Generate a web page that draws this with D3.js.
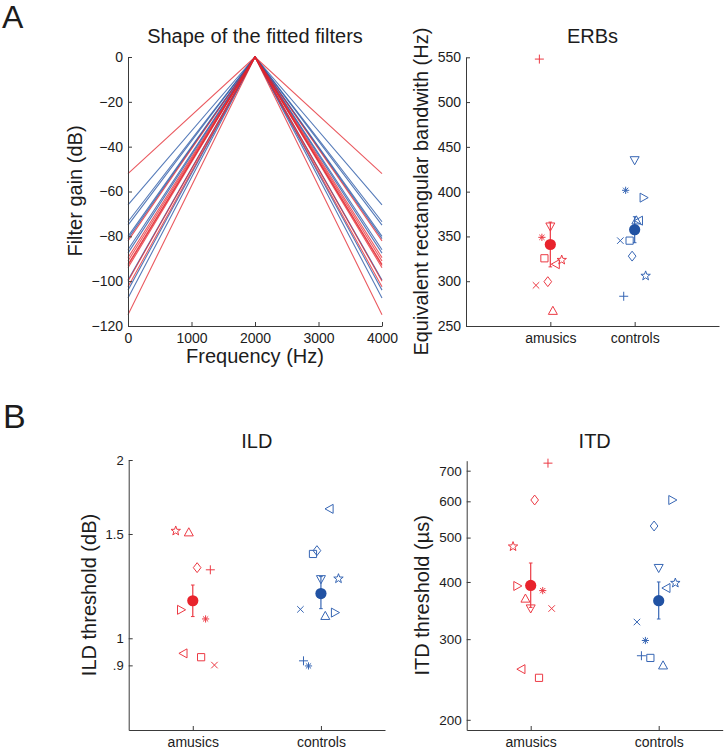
<!DOCTYPE html>
<html>
<head>
<meta charset="utf-8">
<script src="https://cdn.jsdelivr.net/npm/d3@7"></script>
<style>
  body { margin: 0; background: #fff; }
  svg text { font-family: "Liberation Sans", Arial, sans-serif; fill: #1c1c1c; }
  .axis path, .axis line { stroke: #3a3a3a; }
</style>
</head>
<body>
<svg id="chart" width="726" height="750"></svg>
<script>
// ---- data ----
const groupNames = ['amusics', 'controls'];
const markerOrder = ['+', 'v', '*', 's', '<', 'p', 'x', 'd', '^', '>'];

// fitted filters: gain (dB) at 0 and 4000 Hz, peak 0 dB at 2000 Hz
const filterFreqs = [0, 2000, 4000];
const amusicsFilterEdge = [-52, -82, -89.5, -91, -92.5, -93, -94, -100, -102.5, -115];
const controlsFilterEdge = [-66, -73.5, -75, -80, -81, -86, -87.5, -99.5, -104, -107.5];

// ERBs (Hz), one per subject in markerOrder, plus horizontal jitter
const erbAmusics = [548, 361, 349, 325.6, 319, 323.7, 295.4, 299.5, 267, null];
const erbAmusicsJitter = [-0.13, 0, -0.10, -0.07, 0.064, 0.135, -0.17, -0.03, 0.03, 0];
const erbControls = [283.2, 435, 401.5, 345.3, 367.6, 306, 345.3, 328, 368, 393.3];
const erbControlsJitter = [-0.13, 0, -0.107, -0.06, 0.05, 0.13, -0.17, -0.03, 0.02, 0.107];
const erbMeans = [341, 357.5];
const erbErr = [[316, 366], [343, 372]];

// ILD thresholds (dB)
const ildAmusics = [1.305, null, 1.078, 0.929, 0.943, 1.518, 0.901, 1.316, 1.51, 1.117];
const ildAmusicsJitter = [0.137, 0, 0.10, 0.065, -0.073, -0.133, 0.169, 0.034, -0.031, -0.091];
const ildControls = [0.916, 1.258, 0.898, 1.388, 1.654, 1.261, 1.119, 1.406, 1.091, 1.105];
const ildControlsJitter = [-0.136, 0, -0.097, -0.062, 0.067, 0.137, -0.16, -0.031, 0.034, 0.11];
const ildMeans = [1.157, 1.19];
const ildErr = [[1.088, 1.23], [1.122, 1.271]];
const ildTicks = [0.9, 1, 1.5, 2];

// ITD thresholds (us)
const itdAmusics = [727, 350, 383, 247, 258, 478, 350, 604, 368, 392];
const itdAmusicsJitter = [0.135, 0, 0.094, 0.065, -0.073, -0.138, 0.164, 0.031, -0.041, -0.104];
const itdControls = [276, 429, 298, 273, 388, 398, 327, 530, 263, 604];
const itdControlsJitter = [-0.135, 0, -0.104, -0.065, 0.06, 0.13, -0.17, -0.036, 0.034, 0.107];
const itdMeans = [393, 364];
const itdErr = [[352, 440], [332, 400]];
const itdTicks = [200, 300, 400, 500, 600, 700];

const colors = {
  red: '#e8232c', redMark: '#ec3a44',
  blue: '#2152a3', blueMark: '#3766b4',
  redLine: '#e3232b', blueLine: '#2c5aa7'
};

const svg = d3.select('#chart');

// marker glyphs in the style of MATLAB markers
function markerPath(shape, s) {
  const p = d3.path();
  const poly = pts => {
    p.moveTo(pts[0][0], pts[0][1]);
    pts.slice(1).forEach(q => p.lineTo(q[0], q[1]));
    p.closePath();
  };
  switch (shape) {
    case '+':
      p.moveTo(-s, 0); p.lineTo(s, 0); p.moveTo(0, -s); p.lineTo(0, s);
      break;
    case 'x': {
      const k = s * 0.72;
      p.moveTo(-k, -k); p.lineTo(k, k); p.moveTo(-k, k); p.lineTo(k, -k);
      break;
    }
    case '*': {
      const a = s * 0.8, k = a * 0.72;
      p.moveTo(-a, 0); p.lineTo(a, 0); p.moveTo(0, -a); p.lineTo(0, a);
      p.moveTo(-k, -k); p.lineTo(k, k); p.moveTo(-k, k); p.lineTo(k, -k);
      break;
    }
    case 's':
      p.rect(-0.8 * s, -0.8 * s, 1.6 * s, 1.6 * s);
      break;
    case 'd':
      poly([[0, -1.1 * s], [0.85 * s, 0], [0, 1.1 * s], [-0.85 * s, 0]]);
      break;
    case 'v':
      poly([[-s, -0.8 * s], [s, -0.8 * s], [0, s]]);
      break;
    case '^':
      poly([[-s, 0.8 * s], [s, 0.8 * s], [0, -s]]);
      break;
    case '>':
      poly([[-0.8 * s, -s], [-0.8 * s, s], [s, 0]]);
      break;
    case '<':
      poly([[0.8 * s, -s], [0.8 * s, s], [-s, 0]]);
      break;
    case 'p': {
      const pts = [];
      for (let i = 0; i < 10; i++) {
        const r = i % 2 ? s * 0.45 : s * 1.1;
        const a = -Math.PI / 2 + i * Math.PI / 5;
        pts.push([r * Math.cos(a), r * Math.sin(a)]);
      }
      poly(pts);
      break;
    }
  }
  return p.toString();
}

function styleAxis(g, fontSize) {
  g.attr('class', 'axis');
  g.selectAll('text').style('font-size', fontSize + 'px').attr('fill', '#1c1c1c');
  g.selectAll('path, line').attr('stroke', '#3a3a3a');
}

function addTitle(x, y, text) {
  svg.append('text').attr('x', x).attr('y', y)
    .attr('text-anchor', 'middle').style('font-size', '20px').text(text);
}

function addYLabel(x, cy, text) {
  svg.append('text')
    .attr('transform', `translate(${x},${cy}) rotate(-90)`)
    .attr('text-anchor', 'middle').style('font-size', '20px').text(text);
}

// ---- panel labels ----
svg.append('text').attr('x', 2).attr('y', 28).style('font-size', '32px').text('A');
svg.append('text').attr('x', 3).attr('y', 428).style('font-size', '34px').text('B');

// ---- A left: shape of the fitted filters ----
(function drawFilters() {
  const x = d3.scaleLinear().domain([0, 4000]).range([128, 382]);
  const y = d3.scaleLinear().domain([-120, 0]).range([326, 57]);
  const line = d3.line().x(d => x(d[0])).y(d => y(d[1]));

  const mkPts = edge => filterFreqs.map(f => [f, f === 2000 ? 0 : edge]);

  const g = svg.append('g');
  g.selectAll('.ctl').data(controlsFilterEdge).enter().append('path')
    .attr('d', e => line(mkPts(e)))
    .attr('fill', 'none').attr('stroke', colors.blueLine)
    .attr('stroke-opacity', 0.8).attr('stroke-width', 1.1);
  g.selectAll('.amu').data(amusicsFilterEdge).enter().append('path')
    .attr('d', e => line(mkPts(e)))
    .attr('fill', 'none').attr('stroke', colors.redLine)
    .attr('stroke-opacity', 0.75).attr('stroke-width', 1.1);

  svg.append('g').attr('transform', 'translate(128,0)')
    .call(d3.axisLeft(y).tickValues(d3.range(-120, 1, 20)).tickSize(-4).tickSizeOuter(0).tickPadding(5))
    .call(g => styleAxis(g, 14));
  svg.append('g').attr('transform', 'translate(0,326)')
    .call(d3.axisBottom(x).tickValues([0, 1000, 2000, 3000, 4000]).tickFormat(d3.format('d'))
      .tickSize(-4).tickSizeOuter(0).tickPadding(7))
    .call(g => styleAxis(g, 14));

  addTitle(255, 43, 'Shape of the fitted filters');
  addYLabel(82, 191, 'Filter gain (dB)');
  svg.append('text').attr('x', 255).attr('y', 363)
    .attr('text-anchor', 'middle').style('font-size', '20px').text('Frequency (Hz)');
})();

// ---- scatter panels (ERBs, ILD, ITD) ----
function drawScatterPanel(opt) {
  const x = d3.scaleLinear().domain(opt.catDomain).range([opt.x0, opt.x1]);
  const y = opt.y;
  const [yBottom] = y.range();

  const groups = [
    { idx: 1, vals: opt.amusics, jit: opt.amusicsJitter, mean: opt.means[0], err: opt.err[0],
      mark: colors.redMark, dot: colors.red },
    { idx: 2, vals: opt.controls, jit: opt.controlsJitter, mean: opt.means[1], err: opt.err[1],
      mark: colors.blueMark, dot: colors.blue }
  ];

  groups.forEach(grp => {
    const pts = grp.vals.map((v, i) => ({ v, j: grp.jit[i], shape: markerOrder[i] }))
      .filter(d => d.v != null);
    svg.append('g').selectAll('path').data(pts).enter().append('path')
      .attr('transform', d => `translate(${x(grp.idx + d.j)},${y(d.v)})`)
      .attr('d', d => markerPath(d.shape, 4.5))
      .attr('fill', 'none').attr('stroke', grp.mark).attr('stroke-width', 1);

    // error bar + mean
    const cx = x(grp.idx);
    svg.append('line').attr('x1', cx).attr('x2', cx)
      .attr('y1', y(grp.err[0])).attr('y2', y(grp.err[1]))
      .attr('stroke', grp.mark).attr('stroke-width', 1.2);
    grp.err.forEach(e => {
      svg.append('line').attr('x1', cx - 1.8).attr('x2', cx + 1.8)
        .attr('y1', y(e)).attr('y2', y(e))
        .attr('stroke', grp.mark).attr('stroke-width', 1);
    });
    svg.append('circle').attr('cx', cx).attr('cy', y(grp.mean)).attr('r', 5.6)
      .attr('fill', grp.dot);
  });

  const yAxis = d3.axisLeft(y).tickValues(opt.yTicks).tickSize(-4).tickSizeOuter(0).tickPadding(5);
  if (opt.yFormat) yAxis.tickFormat(opt.yFormat);
  svg.append('g').attr('transform', `translate(${opt.x0},0)`)
    .call(yAxis).call(g => styleAxis(g, opt.tickFont));

  svg.append('g').attr('transform', `translate(0,${yBottom})`)
    .call(d3.axisBottom(x).tickValues([1, 2]).tickFormat((d, i) => groupNames[i])
      .tickSize(-4).tickSizeOuter(0).tickPadding(7))
    .call(g => styleAxis(g, 14));

  addTitle((opt.x0 + opt.x1) / 2, opt.titleY, opt.title);
  addYLabel(opt.yLabelX, d3.mean(y.range()), opt.yLabel);
}

drawScatterPanel({
  title: 'ERBs', titleY: 43,
  yLabel: 'Equivalent rectangular bandwith (Hz)', yLabelX: 428,
  x0: 466, x1: 719, catDomain: [0, 3],
  y: d3.scaleLinear().domain([250, 550]).range([326, 57.3]),
  yTicks: d3.range(250, 551, 50), tickFont: 14,
  amusics: erbAmusics, amusicsJitter: erbAmusicsJitter,
  controls: erbControls, controlsJitter: erbControlsJitter,
  means: erbMeans, err: erbErr
});

drawScatterPanel({
  title: 'ILD', titleY: 448,
  yLabel: 'ILD threshold (dB)', yLabelX: 96,
  x0: 128.7, x1: 385, catDomain: [0.5, 2.5],
  y: d3.scaleLog().domain([0.7, 2]).range([730, 460]),
  yTicks: ildTicks, tickFont: 13,
  yFormat: d => d3.format('~g')(d).replace(/^0\./, '.'),
  amusics: ildAmusics, amusicsJitter: ildAmusicsJitter,
  controls: ildControls, controlsJitter: ildControlsJitter,
  means: ildMeans, err: ildErr
});

drawScatterPanel({
  title: 'ITD', titleY: 448,
  yLabel: 'ITD threshold (\u00b5s)', yLabelX: 429,
  x0: 466.7, x1: 722.7, catDomain: [0.5, 2.5],
  y: d3.scaleLog().domain([190, 736]).range([730, 460.7]),
  yTicks: itdTicks, tickFont: 13.5,
  yFormat: d3.format('d'),
  amusics: itdAmusics, amusicsJitter: itdAmusicsJitter,
  controls: itdControls, controlsJitter: itdControlsJitter,
  means: itdMeans, err: itdErr
});
</script>
</body>
</html>
